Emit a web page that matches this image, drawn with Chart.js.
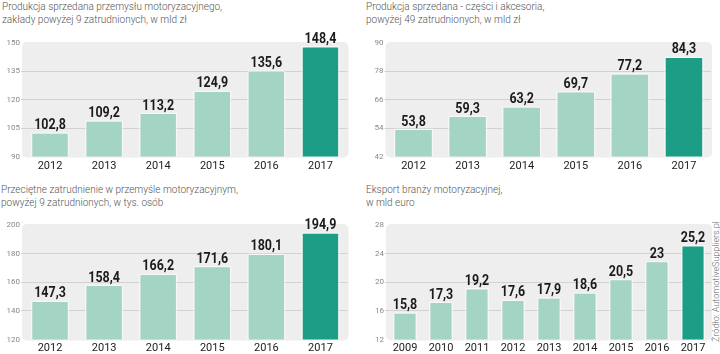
<!DOCTYPE html>
<html><head><meta charset="utf-8">
<script src="https://cdn.jsdelivr.net/npm/chart.js@4.4.1/dist/chart.umd.min.js"></script>
<style>
html,body{margin:0;padding:0;background:#fff;width:720px;height:354px;overflow:hidden;}
.t{position:absolute;font-family:Roboto,sans-serif;font-weight:300;font-size:10px;line-height:13px;color:#555;white-space:nowrap;}
canvas{position:absolute;}
#src{position:absolute;left:656px;top:277px;width:120px;height:10px;line-height:10px;text-align:center;font-family:Roboto,sans-serif;font-weight:300;font-size:9px;color:#666;transform:rotate(-90deg);white-space:nowrap;}
</style></head>
<body>
<div class="t" style="left:2px;top:0px">Produkcja sprzedana przemysłu motoryzacyjnego,<br>zakłady powyżej 9 zatrudnionych, w mld zł</div>
<div class="t" style="left:366px;top:0px">Produkcja sprzedana - części i akcesoria,<br>powyżej 49 zatrudnionych, w mld zł</div>
<div class="t" style="left:1px;top:183px">Przeciętne zatrudnienie w przemyśle motoryzacyjnym,<br>powyżej 9 zatrudnionych, w tys. osób</div>
<div class="t" style="left:366px;top:183px">Eksport branży motoryzacyjnej,<br>w mld euro</div>
<div id="src">Źródło: AutomotiveSuppliers.pl</div>
<canvas id="c1" width="352" height="177" style="left:0;top:0"></canvas>
<canvas id="c2" width="360" height="177" style="left:360px;top:0"></canvas>
<canvas id="c3" width="352" height="177" style="left:0;top:177px"></canvas>
<canvas id="c4" width="360" height="177" style="left:360px;top:177px"></canvas>
<script>
// ---- data ----
const years2012 = ['2012','2013','2014','2015','2016','2017'];
const years2009 = ['2009','2010','2011','2012','2013','2014','2015','2016','2017'];
const productionMotor = [102.8, 109.2, 113.2, 124.9, 135.6, 148.4];
const productionParts = [53.8, 59.3, 63.2, 69.7, 77.2, 84.3];
const employment = [147.3, 158.4, 166.2, 171.6, 180.1, 194.9];
const exportEuro = [15.8, 17.3, 19.2, 17.6, 17.9, 18.6, 20.5, 23, 25.2];
const ticksMotor = [90, 105, 120, 135, 150];
const ticksParts = [42, 54, 66, 78, 90];
const ticksEmployment = [120, 140, 160, 180, 200];
const ticksExport = [12, 16, 20, 24, 28];

const LIGHT = '#a4d4c3', DARK = '#1c9d85';

const panelBg = {
  id: 'panelBg',
  beforeDraw(chart) {
    const a = chart.chartArea, ctx = chart.ctx;
    ctx.save();
    ctx.fillStyle = '#eeeeee';
    ctx.beginPath();
    ctx.roundRect(a.left - 1, a.top - 1, a.right - a.left + 2, a.bottom - a.top + 2, 5);
    ctx.fill();
    ctx.restore();
  }
};
const valueLabels = {
  id: 'valueLabels',
  afterDatasetsDraw(chart) {
    const ctx = chart.ctx, meta = chart.getDatasetMeta(0), data = chart.data.datasets[0].data;
    ctx.save();
    ctx.font = 'bold 14.5px Roboto, sans-serif';
    ctx.fillStyle = '#1b1b1b';
    ctx.textAlign = 'center';
    ctx.textBaseline = 'alphabetic';
    meta.data.forEach((bar, i) => {
      ctx.save();
      ctx.translate(bar.x, bar.y - 3);
      ctx.scale(0.86, 1);
      ctx.fillText(String(data[i]).replace('.', ','), 0, 0);
      ctx.restore();
    });
    ctx.restore();
  }
};

function makeChart(id, labels, values, ticks, geo) {
  const min = ticks[0], max = ticks[ticks.length - 1];
  const step = ticks[1] - ticks[0];
  new Chart(document.getElementById(id), {
    type: 'bar',
    data: {
      labels: labels,
      datasets: [{
        data: values,
        backgroundColor: values.map((v, i) => i === values.length - 1 ? DARK : LIGHT),
        borderColor: 'rgba(255,255,255,0.55)',
        borderWidth: 1.5,
        borderRadius: 2,
        borderSkipped: false,
        categoryPercentage: 1,
        barPercentage: geo.bar
      }]
    },
    options: {
      responsive: false,
      animation: false,
      layout: { padding: { top: geo.top, right: geo.right, bottom: 0, left: 0 } },
      plugins: { legend: { display: false }, tooltip: { enabled: false } },
      scales: {
        x: {
          grid: { display: false, drawTicks: false, tickLength: 0 },
          border: { display: false },
          ticks: { color: '#222', font: { family: 'Roboto', size: 11 }, padding: geo.xpad, maxRotation: 0, autoSkip: false },
          afterFit(s) { s.height = geo.xh; }
        },
        y: {
          min: min, max: max,
          border: { display: false },
          grid: {
            color: (c) => (c.tick && (c.tick.value === min || c.tick.value === max)) ? 'rgba(0,0,0,0)' : '#d2d2d2',
            tickLength: 2,
            lineWidth: 1
          },
          ticks: { stepSize: step, color: '#888', font: { family: 'Roboto', size: 8 }, padding: 1 },
          afterFit(s) { s.width = geo.yw; }
        }
      }
    },
    plugins: [panelBg, valueLabels]
  });
}

makeChart('c1', years2012, productionMotor, ticksMotor, { top: 43, right: 4.5, yw: 23, xh: 20.5, xpad: 3, bar: 0.71 });
makeChart('c2', years2012, productionParts, ticksParts, { top: 43, right: 9, yw: 26.5, xh: 20.5, xpad: 3, bar: 0.73 });
makeChart('c3', years2012, employment, ticksEmployment, { top: 48, right: 4.5, yw: 23, xh: 14.5, xpad: 2, bar: 0.71 });
makeChart('c4', years2009, exportEuro, ticksExport, { top: 48, right: 9, yw: 27, xh: 14.5, xpad: 2, bar: 0.67 });
</script>
</body></html>
